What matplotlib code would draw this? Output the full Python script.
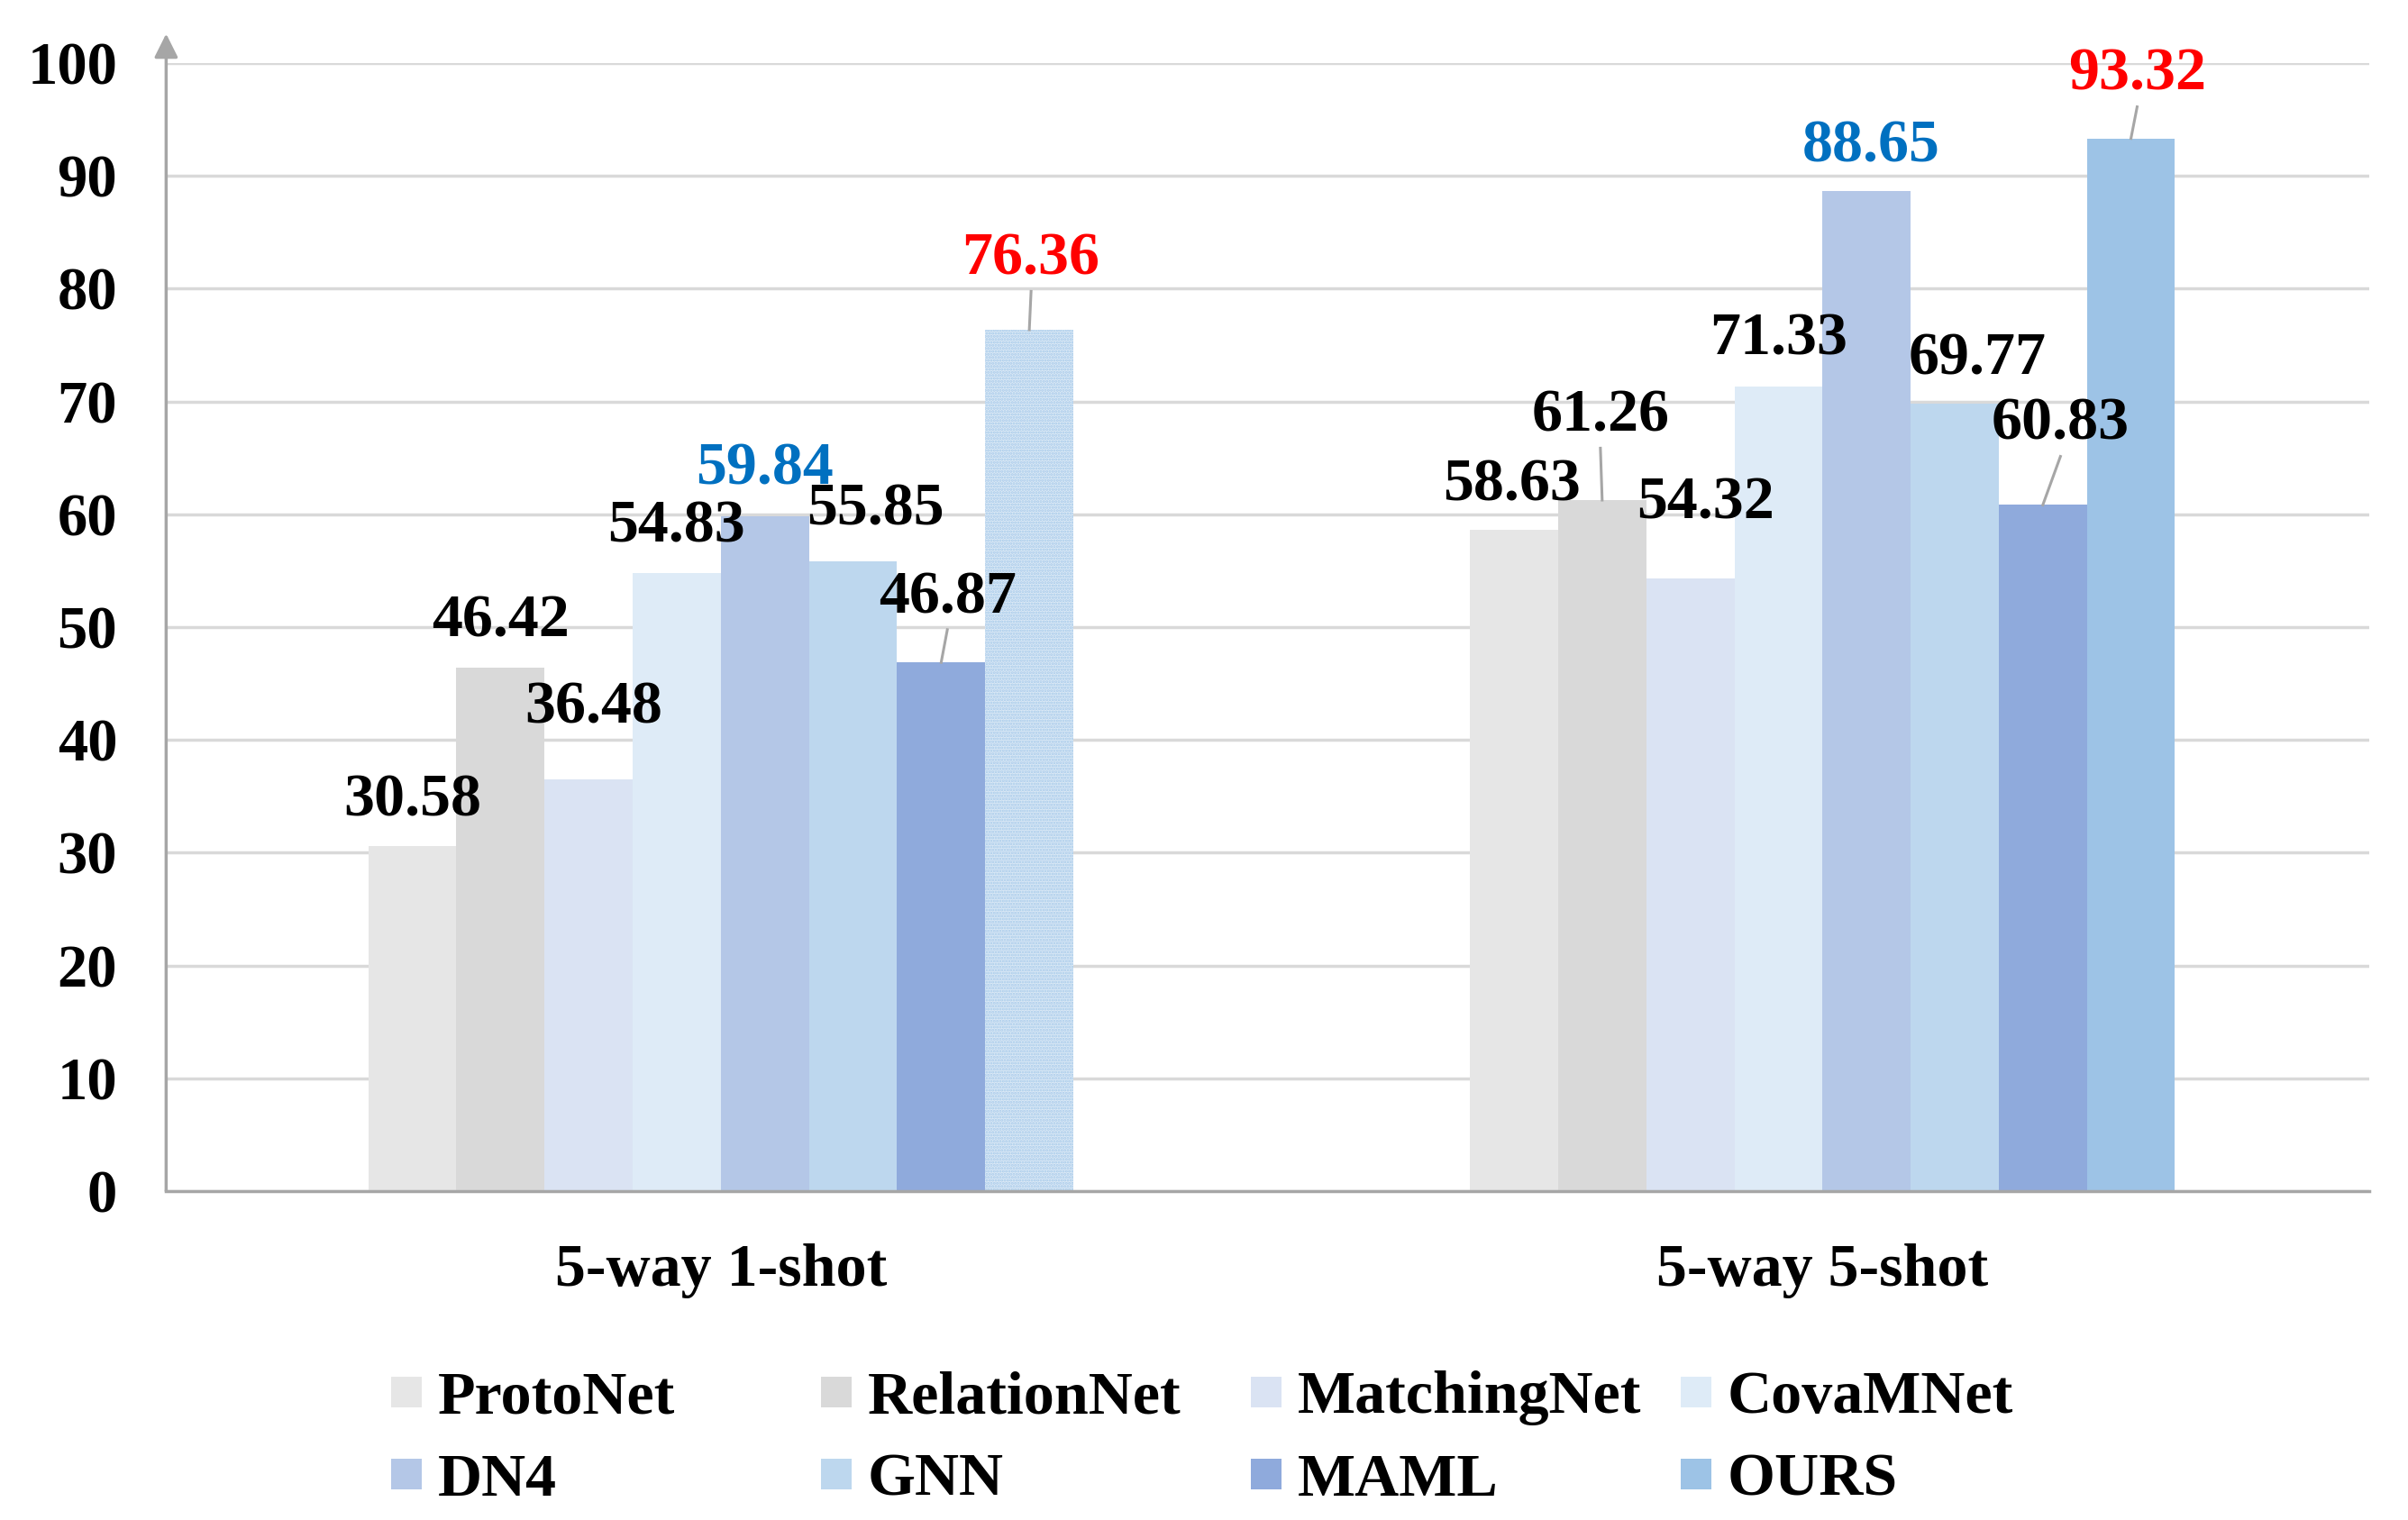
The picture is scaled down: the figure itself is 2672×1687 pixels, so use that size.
import numpy as np
import matplotlib.pyplot as plt
from matplotlib.patches import Rectangle

plt.rcParams.update({'font.family': 'Liberation Serif', 'font.weight': 'bold',
                     'font.size': 48, 'hatch.linewidth': 1.5})

categories = ['5-way 1-shot', '5-way 5-shot']
methods = ['ProtoNet', 'RelationNet', 'MatchingNet', 'CovaMNet', 'DN4', 'GNN', 'MAML', 'OURS']
colors = ['#e6e6e6', '#d9d9d9', '#dae3f3', '#deebf7', '#b4c7e7', '#bdd7ee', '#8faadc', '#9dc3e6']
acc_1shot = [30.58, 46.42, 36.48, 54.83, 59.84, 55.85, 46.87, 76.36]
acc_5shot = [58.63, 61.26, 54.32, 71.33, 88.65, 69.77, 60.83, 93.32]
label_colors = ['black', 'black', 'black', 'black', '#0070c0', 'black', 'black', '#ff0000']

# hand placement of value labels as in the original (dx in bar widths, dy = baseline above bar)
dx_1shot = [0, 0, 0.06, 0, 0, 0.25, 0.07, 0.02]
dy_1shot = [2.7, 2.7, 5.0, 2.7, 2.8, 3.2, 4.4, 4.9]
dx_5shot = [-0.03, -0.02, 0.17, 0, 0.05, 0.26, 0.2, 0.07]
dy_5shot = [2.6, 6.1, 5.3, 2.8, 2.6, 2.6, 5.8, 4.3]
leader_1shot = [0, 0, 0, 0, 0, 0, 1, 1]
leader_5shot = [0, 1, 0, 0, 0, 0, 1, 1]

fig = plt.figure(figsize=(26.72, 16.87), dpi=100)
ax = fig.add_axes([0.069, 0.2164, 0.915, 0.7421])

w = 0.08
n = len(methods)
groups = [(acc_1shot, dx_1shot, dy_1shot, leader_1shot), (acc_5shot, dx_5shot, dy_5shot, leader_5shot)]
for g, (vals, dxs, dys, leads) in enumerate(groups):
    for i in range(n):
        xb = g + (i - (n - 1) / 2) * w
        v = vals[i]
        if g == 0 and methods[i] == 'OURS':
            ax.bar(xb, v, w, color='#dbe9f6', edgecolor='#a9cbea', linewidth=0,
                   hatch='.....', zorder=3)
        else:
            ax.bar(xb, v, w, color=colors[i], linewidth=0, zorder=3)
        xt = xb + dxs[i] * w
        ax.text(xt, v + dys[i], f'{v:.2f}', ha='center', va='baseline',
                color=label_colors[i], fontsize=49, fontweight='bold', zorder=5)
        if leads[i]:
            ax.plot([xb, xt], [v, v + dys[i] - 1.5], color='#a6a6a6', lw=2.2, zorder=4)

ax.set_xlim(-0.5035, 1.4965)
ax.set_ylim(0, 100)
ax.set_yticks(np.arange(0, 101, 10))
ax.set_xticks([0, 1], categories)
ax.tick_params(axis='y', length=0, pad=39, labelsize=48)
ax.tick_params(axis='x', length=0, pad=42, labelsize=49)
ax.grid(axis='y', color='#d9d9d9', lw=2.5, zorder=0)
for s in ['top', 'right', 'left']:
    ax.spines[s].set_visible(False)
ax.spines['bottom'].set_color('#a6a6a6')
ax.spines['bottom'].set_linewidth(2.5)
ax.spines['bottom'].set_zorder(6)
ax.annotate('', xy=(0, 1.026), xytext=(0, 0), xycoords='axes fraction',
            arrowprops=dict(arrowstyle='-|>', color='#a6a6a6', lw=2.5, mutation_scale=40,
                            shrinkA=0, shrinkB=0), annotation_clip=False, zorder=6)

# legend laid out on an even grid like the original
for i, name in enumerate(methods):
    col, row = i % 4, i // 4
    x0 = 0.1626 + col * 0.1785
    yc = [0.0842, 0.0302][row]
    fig.add_artist(Rectangle((x0, yc - 0.0101), 0.0127, 0.0202, transform=fig.transFigure,
                             facecolor=colors[i], edgecolor='none'))
    fig.text(x0 + 0.0193, yc, name, ha='left', va='center_baseline', fontsize=49,
             fontweight='bold')

fig.savefig('out.png', dpi=100)
